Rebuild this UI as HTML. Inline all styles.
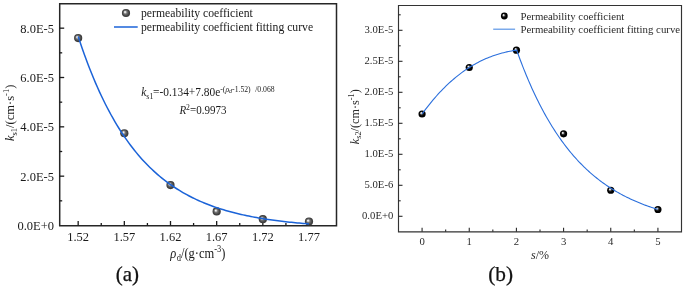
<!DOCTYPE html>
<html><head><meta charset="utf-8"><style>
html,body{margin:0;padding:0;background:#fff;}
svg{display:block;will-change:transform;}
text{font-family:"Liberation Serif",serif;}
</style></head><body>
<svg width="685" height="288" viewBox="0 0 685 288">
<defs>
<radialGradient id="ga" cx="0.5" cy="0.5" r="0.5" fx="0.36" fy="0.36">
<stop offset="0" stop-color="#ffffff"/><stop offset="0.15" stop-color="#e4e4e4"/><stop offset="0.42" stop-color="#747474"/><stop offset="0.75" stop-color="#474747"/><stop offset="1" stop-color="#353535"/></radialGradient>
<radialGradient id="gb" cx="0.5" cy="0.5" r="0.5" fx="0.36" fy="0.34">
<stop offset="0" stop-color="#ffffff"/><stop offset="0.18" stop-color="#d0d0d0"/><stop offset="0.4" stop-color="#333"/><stop offset="0.65" stop-color="#000"/><stop offset="1" stop-color="#000"/></radialGradient>
</defs>
<path d="M59.7,3.7 H336.5 V225.8 H59.7 Z" fill="none" stroke="#262626" stroke-width="1.5"/>
<line x1="59.7" y1="200.83" x2="62.2" y2="200.83" stroke="#1a1a1a" stroke-width="1.3"/>
<line x1="59.7" y1="176.17" x2="64.2" y2="176.17" stroke="#1a1a1a" stroke-width="1.3"/>
<line x1="59.7" y1="151.50" x2="62.2" y2="151.50" stroke="#1a1a1a" stroke-width="1.3"/>
<line x1="59.7" y1="126.83" x2="64.2" y2="126.83" stroke="#1a1a1a" stroke-width="1.3"/>
<line x1="59.7" y1="102.17" x2="62.2" y2="102.17" stroke="#1a1a1a" stroke-width="1.3"/>
<line x1="59.7" y1="77.50" x2="64.2" y2="77.50" stroke="#1a1a1a" stroke-width="1.3"/>
<line x1="59.7" y1="52.83" x2="62.2" y2="52.83" stroke="#1a1a1a" stroke-width="1.3"/>
<line x1="59.7" y1="28.17" x2="64.2" y2="28.17" stroke="#1a1a1a" stroke-width="1.3"/>
<line x1="78.17" y1="225.5" x2="78.17" y2="221.0" stroke="#1a1a1a" stroke-width="1.3"/>
<line x1="101.25" y1="225.5" x2="101.25" y2="223.0" stroke="#1a1a1a" stroke-width="1.3"/>
<line x1="124.33" y1="225.5" x2="124.33" y2="221.0" stroke="#1a1a1a" stroke-width="1.3"/>
<line x1="147.42" y1="225.5" x2="147.42" y2="223.0" stroke="#1a1a1a" stroke-width="1.3"/>
<line x1="170.50" y1="225.5" x2="170.50" y2="221.0" stroke="#1a1a1a" stroke-width="1.3"/>
<line x1="193.58" y1="225.5" x2="193.58" y2="223.0" stroke="#1a1a1a" stroke-width="1.3"/>
<line x1="216.67" y1="225.5" x2="216.67" y2="221.0" stroke="#1a1a1a" stroke-width="1.3"/>
<line x1="239.75" y1="225.5" x2="239.75" y2="223.0" stroke="#1a1a1a" stroke-width="1.3"/>
<line x1="262.83" y1="225.5" x2="262.83" y2="221.0" stroke="#1a1a1a" stroke-width="1.3"/>
<line x1="285.92" y1="225.5" x2="285.92" y2="223.0" stroke="#1a1a1a" stroke-width="1.3"/>
<line x1="309.00" y1="225.5" x2="309.00" y2="221.0" stroke="#1a1a1a" stroke-width="1.3"/>
<text transform="translate(54.00,230.10) scale(0.5000,0.5300)" font-size="25.00" fill="#1a1a1a" text-anchor="end">0.0E+0</text>
<text transform="translate(54.00,180.77) scale(0.5000,0.5300)" font-size="25.00" fill="#1a1a1a" text-anchor="end">2.0E-5</text>
<text transform="translate(54.00,131.43) scale(0.5000,0.5300)" font-size="25.00" fill="#1a1a1a" text-anchor="end">4.0E-5</text>
<text transform="translate(54.00,82.10) scale(0.5000,0.5300)" font-size="25.00" fill="#1a1a1a" text-anchor="end">6.0E-5</text>
<text transform="translate(54.00,32.77) scale(0.5000,0.5300)" font-size="25.00" fill="#1a1a1a" text-anchor="end">8.0E-5</text>
<text transform="translate(78.17,240.70) scale(0.5000,0.5300)" font-size="25.00" fill="#1a1a1a" text-anchor="middle">1.52</text>
<text transform="translate(124.33,240.70) scale(0.5000,0.5300)" font-size="25.00" fill="#1a1a1a" text-anchor="middle">1.57</text>
<text transform="translate(170.50,240.70) scale(0.5000,0.5300)" font-size="25.00" fill="#1a1a1a" text-anchor="middle">1.62</text>
<text transform="translate(216.67,240.70) scale(0.5000,0.5300)" font-size="25.00" fill="#1a1a1a" text-anchor="middle">1.67</text>
<text transform="translate(262.83,240.70) scale(0.5000,0.5300)" font-size="25.00" fill="#1a1a1a" text-anchor="middle">1.72</text>
<text transform="translate(309.00,240.70) scale(0.5000,0.5300)" font-size="25.00" fill="#1a1a1a" text-anchor="middle">1.77</text>
<circle cx="78.17" cy="38.03" r="4.1" fill="url(#ga)"/>
<circle cx="124.33" cy="133.25" r="4.1" fill="url(#ga)"/>
<circle cx="170.50" cy="185.05" r="4.1" fill="url(#ga)"/>
<circle cx="216.67" cy="211.44" r="4.1" fill="url(#ga)"/>
<circle cx="262.83" cy="219.21" r="4.1" fill="url(#ga)"/>
<circle cx="309.00" cy="221.55" r="4.1" fill="url(#ga)"/>
<path d="M78.17,36.41 L80.11,42.26 L82.05,47.93 L83.99,53.44 L85.93,58.77 L87.87,63.94 L89.81,68.96 L91.75,73.82 L93.68,78.54 L95.62,83.11 L97.56,87.54 L99.50,91.84 L101.44,96.01 L103.38,100.05 L105.32,103.96 L107.26,107.76 L109.20,111.44 L111.14,115.01 L113.08,118.48 L115.02,121.83 L116.96,125.09 L118.90,128.24 L120.84,131.30 L122.78,134.27 L124.72,137.14 L126.66,139.93 L128.60,142.64 L130.54,145.26 L132.48,147.80 L134.42,150.26 L136.36,152.65 L138.30,154.97 L140.24,157.22 L142.18,159.39 L144.12,161.51 L146.06,163.55 L148.00,165.54 L149.94,167.46 L151.88,169.33 L153.82,171.14 L155.76,172.89 L157.70,174.59 L159.64,176.24 L161.58,177.84 L163.52,179.39 L165.46,180.90 L167.40,182.35 L169.34,183.77 L171.28,185.14 L173.22,186.47 L175.16,187.75 L177.10,189.00 L179.04,190.21 L180.97,191.39 L182.91,192.53 L184.85,193.63 L186.79,194.70 L188.73,195.74 L190.67,196.74 L192.61,197.72 L194.55,198.66 L196.49,199.58 L198.43,200.47 L200.37,201.33 L202.31,202.17 L204.25,202.98 L206.19,203.76 L208.13,204.53 L210.07,205.26 L212.01,205.98 L213.95,206.68 L215.89,207.35 L217.83,208.00 L219.77,208.63 L221.71,209.25 L223.65,209.84 L225.59,210.42 L227.53,210.98 L229.47,211.52 L231.41,212.05 L233.35,212.56 L235.29,213.05 L237.23,213.53 L239.17,214.00 L241.11,214.45 L243.05,214.88 L244.99,215.31 L246.93,215.72 L248.87,216.11 L250.81,216.50 L252.75,216.88 L254.69,217.24 L256.63,217.59 L258.57,217.93 L260.51,218.26 L262.45,218.58 L264.39,218.89 L266.32,219.20 L268.26,219.49 L270.20,219.77 L272.14,220.05 L274.08,220.31 L276.02,220.57 L277.96,220.82 L279.90,221.06 L281.84,221.30 L283.78,221.53 L285.72,221.75 L287.66,221.96 L289.60,222.17 L291.54,222.37 L293.48,222.57 L295.42,222.76 L297.36,222.94 L299.30,223.12 L301.24,223.29 L303.18,223.46 L305.12,223.62 L307.06,223.78 L309.00,223.94" fill="none" stroke="#1b63d8" stroke-width="1.5"/>
<circle cx="126" cy="13.0" r="4.1" fill="url(#ga)"/>
<line x1="114" y1="27.0" x2="137.7" y2="27.0" stroke="#1b63d8" stroke-width="1.5"/>
<text transform="translate(141.00,17.30) scale(0.5000,0.5000)" font-size="23.40" fill="#1a1a1a" text-anchor="start">permeability coefficient</text>
<text transform="translate(141.00,30.90) scale(0.5000,0.5000)" font-size="23.40" fill="#1a1a1a" text-anchor="start">permeability coefficient fitting curve</text>
<text transform="translate(141.20,96.30) scale(0.5000,0.5200)" font-size="22.80" fill="#1a1a1a" text-anchor="start"><tspan font-style="italic">k</tspan><tspan font-size="16.00" dy="5.00">s1</tspan><tspan dy="-5.00" dx="-0.80">=-0.134+7.80e</tspan><tspan font-size="15.40" dy="-9.20">-(</tspan><tspan font-size="15.40" font-style="italic">ρ</tspan><tspan font-size="12.00" dy="3.00" font-style="italic">d</tspan><tspan font-size="15.40" dy="-3.00">-1.52)</tspan><tspan font-size="15.40" dx="9.00">/0.068</tspan></text>
<text transform="translate(179.40,114.30) scale(0.5000,0.5200)" font-size="22.00" fill="#1a1a1a" text-anchor="start"><tspan font-style="italic">R</tspan><tspan font-size="15.40" dy="-9.20">2</tspan><tspan dy="9.20">=0.9973</tspan></text>
<text transform="translate(170.30,257.60) scale(0.5000,0.5750)" font-size="25.00" fill="#1a1a1a" text-anchor="start"><tspan font-style="italic">ρ</tspan><tspan font-size="17.00" dy="6.00" dx="0.80">d</tspan><tspan dy="-6.00">/(g·cm</tspan><tspan font-size="17.00" dy="-10.00">-3</tspan><tspan dy="10.00">)</tspan></text>
<text transform="translate(14.30,141.00) rotate(-90) scale(0.5000,0.5000)" font-size="25.00" fill="#1a1a1a" text-anchor="start"><tspan font-style="italic">k</tspan><tspan font-size="17.00" dy="5.00">s1</tspan><tspan dy="-5.00">/(cm·s</tspan><tspan font-size="17.00" dy="-10.00">-1</tspan><tspan dy="10.00">)</tspan></text>
<text transform="translate(127.30,280.80) scale(0.5000,0.5000)" font-size="42.00" fill="#111" text-anchor="middle" stroke="#111" stroke-width="0.5">(a)</text>
<path d="M398.5,5.5 H681.5 V231.8 H398.5 Z" fill="none" stroke="#333" stroke-width="1.15"/>
<line x1="398.5" y1="216.30" x2="402.5" y2="216.30" stroke="#2a2a2a" stroke-width="1.1"/>
<line x1="398.5" y1="200.80" x2="400.7" y2="200.80" stroke="#2a2a2a" stroke-width="1.1"/>
<line x1="398.5" y1="185.30" x2="402.5" y2="185.30" stroke="#2a2a2a" stroke-width="1.1"/>
<line x1="398.5" y1="169.80" x2="400.7" y2="169.80" stroke="#2a2a2a" stroke-width="1.1"/>
<line x1="398.5" y1="154.30" x2="402.5" y2="154.30" stroke="#2a2a2a" stroke-width="1.1"/>
<line x1="398.5" y1="138.80" x2="400.7" y2="138.80" stroke="#2a2a2a" stroke-width="1.1"/>
<line x1="398.5" y1="123.30" x2="402.5" y2="123.30" stroke="#2a2a2a" stroke-width="1.1"/>
<line x1="398.5" y1="107.80" x2="400.7" y2="107.80" stroke="#2a2a2a" stroke-width="1.1"/>
<line x1="398.5" y1="92.30" x2="402.5" y2="92.30" stroke="#2a2a2a" stroke-width="1.1"/>
<line x1="398.5" y1="76.80" x2="400.7" y2="76.80" stroke="#2a2a2a" stroke-width="1.1"/>
<line x1="398.5" y1="61.30" x2="402.5" y2="61.30" stroke="#2a2a2a" stroke-width="1.1"/>
<line x1="398.5" y1="45.80" x2="400.7" y2="45.80" stroke="#2a2a2a" stroke-width="1.1"/>
<line x1="398.5" y1="30.30" x2="402.5" y2="30.30" stroke="#2a2a2a" stroke-width="1.1"/>
<line x1="398.5" y1="14.80" x2="400.7" y2="14.80" stroke="#2a2a2a" stroke-width="1.1"/>
<text transform="translate(393.30,219.00) scale(0.5000,0.5200)" font-size="21.40" fill="#2a2a2a" text-anchor="end">0.0E+0</text>
<text transform="translate(393.30,188.00) scale(0.5000,0.5200)" font-size="21.40" fill="#2a2a2a" text-anchor="end">5.0E-6</text>
<text transform="translate(393.30,157.00) scale(0.5000,0.5200)" font-size="21.40" fill="#2a2a2a" text-anchor="end">1.0E-5</text>
<text transform="translate(393.30,126.00) scale(0.5000,0.5200)" font-size="21.40" fill="#2a2a2a" text-anchor="end">1.5E-5</text>
<text transform="translate(393.30,95.00) scale(0.5000,0.5200)" font-size="21.40" fill="#2a2a2a" text-anchor="end">2.0E-5</text>
<text transform="translate(393.30,64.00) scale(0.5000,0.5200)" font-size="21.40" fill="#2a2a2a" text-anchor="end">2.5E-5</text>
<text transform="translate(393.30,33.00) scale(0.5000,0.5200)" font-size="21.40" fill="#2a2a2a" text-anchor="end">3.0E-5</text>
<line x1="422.08" y1="231.8" x2="422.08" y2="227.8" stroke="#2a2a2a" stroke-width="1.1"/>
<line x1="445.67" y1="231.8" x2="445.67" y2="229.60000000000002" stroke="#2a2a2a" stroke-width="1.1"/>
<text transform="translate(422.08,244.80) scale(0.5000,0.5000)" font-size="21.40" fill="#2a2a2a" text-anchor="middle">0</text>
<line x1="469.25" y1="231.8" x2="469.25" y2="227.8" stroke="#2a2a2a" stroke-width="1.1"/>
<line x1="492.83" y1="231.8" x2="492.83" y2="229.60000000000002" stroke="#2a2a2a" stroke-width="1.1"/>
<text transform="translate(469.25,244.80) scale(0.5000,0.5000)" font-size="21.40" fill="#2a2a2a" text-anchor="middle">1</text>
<line x1="516.42" y1="231.8" x2="516.42" y2="227.8" stroke="#2a2a2a" stroke-width="1.1"/>
<line x1="540.00" y1="231.8" x2="540.00" y2="229.60000000000002" stroke="#2a2a2a" stroke-width="1.1"/>
<text transform="translate(516.42,244.80) scale(0.5000,0.5000)" font-size="21.40" fill="#2a2a2a" text-anchor="middle">2</text>
<line x1="563.58" y1="231.8" x2="563.58" y2="227.8" stroke="#2a2a2a" stroke-width="1.1"/>
<line x1="587.17" y1="231.8" x2="587.17" y2="229.60000000000002" stroke="#2a2a2a" stroke-width="1.1"/>
<text transform="translate(563.58,244.80) scale(0.5000,0.5000)" font-size="21.40" fill="#2a2a2a" text-anchor="middle">3</text>
<line x1="610.75" y1="231.8" x2="610.75" y2="227.8" stroke="#2a2a2a" stroke-width="1.1"/>
<line x1="634.33" y1="231.8" x2="634.33" y2="229.60000000000002" stroke="#2a2a2a" stroke-width="1.1"/>
<text transform="translate(610.75,244.80) scale(0.5000,0.5000)" font-size="21.40" fill="#2a2a2a" text-anchor="middle">4</text>
<line x1="657.92" y1="231.8" x2="657.92" y2="227.8" stroke="#2a2a2a" stroke-width="1.1"/>
<text transform="translate(657.92,244.80) scale(0.5000,0.5000)" font-size="21.40" fill="#2a2a2a" text-anchor="middle">5</text>
<circle cx="422.08" cy="114.00" r="3.6" fill="url(#gb)"/>
<circle cx="469.25" cy="67.50" r="3.6" fill="url(#gb)"/>
<circle cx="516.42" cy="50.14" r="3.6" fill="url(#gb)"/>
<circle cx="563.58" cy="133.84" r="3.6" fill="url(#gb)"/>
<circle cx="610.75" cy="190.26" r="3.6" fill="url(#gb)"/>
<circle cx="657.92" cy="209.48" r="3.6" fill="url(#gb)"/>
<path d="M422.08,114.00 L423.68,111.82 L425.28,109.68 L426.88,107.59 L428.48,105.55 L430.08,103.55 L431.68,101.60 L433.28,99.69 L434.87,97.82 L436.47,96.00 L438.07,94.22 L439.67,92.49 L441.27,90.79 L442.87,89.14 L444.47,87.53 L446.07,85.96 L447.67,84.43 L449.26,82.95 L450.86,81.50 L452.46,80.08 L454.06,78.71 L455.66,77.38 L457.26,76.08 L458.86,74.82 L460.46,73.60 L462.06,72.41 L463.65,71.26 L465.25,70.14 L466.85,69.06 L468.45,68.01 L470.05,67.00 L471.65,66.02 L473.25,65.07 L474.85,64.15 L476.44,63.27 L478.04,62.42 L479.64,61.59 L481.24,60.80 L482.84,60.04 L484.44,59.31 L486.04,58.61 L487.64,57.93 L489.24,57.29 L490.83,56.67 L492.43,56.08 L494.03,55.51 L495.63,54.97 L497.23,54.46 L498.83,53.97 L500.43,53.51 L502.03,53.07 L503.63,52.66 L505.22,52.27 L506.82,51.90 L508.42,51.55 L510.02,51.23 L511.62,50.92 L513.22,50.64 L514.82,50.38 L516.42,50.14 L516.70,50.25 L517.88,53.55 L519.07,56.78 L520.25,59.96 L521.44,63.07 L522.62,66.13 L523.80,69.13 L524.99,72.08 L526.17,74.97 L527.36,77.81 L528.54,80.60 L529.72,83.33 L530.91,86.02 L532.09,88.65 L533.28,91.24 L534.46,93.78 L535.64,96.27 L536.83,98.71 L538.01,101.11 L539.20,103.47 L540.38,105.78 L541.56,108.05 L542.75,110.28 L543.93,112.47 L545.12,114.62 L546.30,116.72 L547.48,118.79 L548.67,120.82 L549.85,122.81 L551.04,124.77 L552.22,126.69 L553.41,128.57 L554.59,130.42 L555.77,132.24 L556.96,134.02 L558.14,135.77 L559.33,137.49 L560.51,139.17 L561.69,140.83 L562.88,142.45 L564.06,144.04 L565.25,145.61 L566.43,147.14 L567.61,148.65 L568.80,150.13 L569.98,151.58 L571.17,153.01 L572.35,154.40 L573.53,155.78 L574.72,157.13 L575.90,158.45 L577.09,159.75 L578.27,161.02 L579.45,162.27 L580.64,163.50 L581.82,164.70 L583.01,165.89 L584.19,167.05 L585.37,168.19 L586.56,169.31 L587.74,170.40 L588.93,171.48 L590.11,172.54 L591.29,173.58 L592.48,174.60 L593.66,175.60 L594.85,176.58 L596.03,177.54 L597.21,178.49 L598.40,179.42 L599.58,180.33 L600.77,181.22 L601.95,182.10 L603.13,182.96 L604.32,183.81 L605.50,184.64 L606.69,185.45 L607.87,186.25 L609.05,187.04 L610.24,187.81 L611.42,188.57 L612.61,189.31 L613.79,190.04 L614.97,190.75 L616.16,191.46 L617.34,192.14 L618.53,192.82 L619.71,193.49 L620.89,194.14 L622.08,194.78 L623.26,195.40 L624.45,196.02 L625.63,196.63 L626.82,197.22 L628.00,197.80 L629.18,198.37 L630.37,198.94 L631.55,199.49 L632.74,200.03 L633.92,200.56 L635.10,201.08 L636.29,201.59 L637.47,202.09 L638.66,202.59 L639.84,203.07 L641.02,203.55 L642.21,204.01 L643.39,204.47 L644.58,204.92 L645.76,205.36 L646.94,205.79 L648.13,206.22 L649.31,206.63 L650.50,207.04 L651.68,207.44 L652.86,207.84 L654.05,208.23 L655.23,208.61 L656.42,208.98 L657.60,209.34" fill="none" stroke="#2b6fdc" stroke-width="1.1"/>
<circle cx="504.3" cy="16" r="3.4" fill="url(#gb)"/>
<line x1="493.2" y1="29.2" x2="515.1" y2="29.2" stroke="#5b95e6" stroke-width="1.2"/>
<text transform="translate(520.50,19.70) scale(0.5000,0.5000)" font-size="21.60" fill="#2a2a2a" text-anchor="start">Permeability coefficient</text>
<text transform="translate(520.50,32.50) scale(0.5000,0.5000)" font-size="21.60" fill="#2a2a2a" text-anchor="start">Permeability coefficient fitting curve</text>
<text transform="translate(531.00,259.00) scale(0.5000,0.5000)" font-size="24.00" fill="#2a2a2a" text-anchor="start"><tspan font-style="italic">s</tspan>/%</text>
<text transform="translate(358.50,144.20) rotate(-90) scale(0.5000,0.5000)" font-size="24.40" fill="#2a2a2a" text-anchor="start"><tspan font-style="italic">k</tspan><tspan font-size="16.60" dy="5.00">s2</tspan><tspan dy="-5.00">/(cm·s</tspan><tspan font-size="16.60" dy="-10.00">-1</tspan><tspan dy="10.00">)</tspan></text>
<text transform="translate(500.60,280.80) scale(0.5000,0.5000)" font-size="42.60" fill="#111" text-anchor="middle" stroke="#111" stroke-width="0.5">(b)</text>
</svg>
</body></html>
